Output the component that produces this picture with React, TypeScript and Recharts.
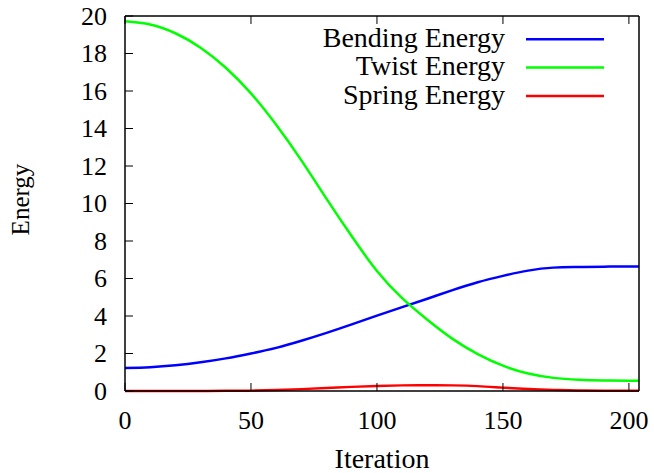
import { LineChart, Line, XAxis, YAxis, Legend, Label } from "recharts";

// iteration samples
const ITERATIONS = [0, 10, 20, 30, 40, 50, 60, 70, 80, 90, 100, 110, 120, 130, 140, 150, 160, 170, 180, 190, 200, 204];
const BENDING = [1.23, 1.27, 1.37, 1.53, 1.74, 2.0, 2.3, 2.68, 3.1, 3.55, 4.02, 4.47, 4.92, 5.38, 5.8, 6.14, 6.42, 6.58, 6.61, 6.63, 6.64, 6.64];
const TWIST = [19.72, 19.55, 19.08, 18.31, 17.24, 15.87, 14.2, 12.3, 10.25, 8.25, 6.4, 4.95, 3.8, 2.78, 1.97, 1.35, 0.93, 0.7, 0.6, 0.56, 0.55, 0.55];
const SPRING = [0, 0, 0, 0, 0.01, 0.02, 0.05, 0.1, 0.16, 0.22, 0.27, 0.3, 0.31, 0.3, 0.26, 0.18, 0.11, 0.06, 0.03, 0.01, 0.01, 0.01];

const SERIES_NAMES = ["Bending Energy", "Twist Energy", "Spring Energy"];
const X_TICKS = [0, 50, 100, 150, 200];
const Y_TICKS = [0, 2, 4, 6, 8, 10, 12, 14, 16, 18, 20];

const data = ITERATIONS.map((it, i) => ({
  iteration: it,
  bending: BENDING[i],
  twist: TWIST[i],
  spring: SPRING[i],
}));

const FONT = '"Liberation Serif", "Times New Roman", serif';
const FS = 26;
const TICK_LEN = 8;

// gnuplot-style inward ticks
const LeftTick = ({ x, y, payload }: any) => (
  <g>
    <line x1={x} y1={y} x2={x + TICK_LEN} y2={y} stroke="#000" strokeWidth={1} />
    <text x={x - 18} y={y} dy={8.5} textAnchor="end" fontFamily={FONT} fontSize={FS} fill="#000">
      {payload.value}
    </text>
  </g>
);

const BottomTick = ({ x, y, payload }: any) => (
  <g>
    <line x1={x} y1={y} x2={x} y2={y - TICK_LEN} stroke="#000" strokeWidth={1} />
    <text x={x} y={y + 38} textAnchor="middle" fontFamily={FONT} fontSize={FS} fill="#000">
      {payload.value}
    </text>
  </g>
);

const RightTick = ({ x, y }: any) => (
  <line x1={x} y1={y} x2={x - TICK_LEN} y2={y} stroke="#000" strokeWidth={1} />
);

const TopTick = ({ x, y }: any) => (
  <line x1={x} y1={y} x2={x} y2={y + TICK_LEN} stroke="#000" strokeWidth={1} />
);

const YTitle = ({ viewBox }: any) => {
  const cx = viewBox.x + 19;
  const cy = viewBox.y + viewBox.height / 2 - 4;
  return (
    <text x={cx} y={cy} transform={`rotate(-90 ${cx} ${cy})`} textAnchor="middle" fontFamily={FONT} fontSize={25} fill="#000">
      Energy
    </text>
  );
};

const XTitle = ({ viewBox }: any) => (
  <text x={viewBox.x + viewBox.width / 2} y={viewBox.y + 77} textAnchor="middle" fontFamily={FONT} fontSize={28} fill="#000">
    Iteration
  </text>
);

const renderLegend = ({ payload }: any) => {
  const items = SERIES_NAMES.map((n) => (payload || []).find((p: any) => p.value === n)).filter(Boolean);
  return (
    <svg width={320} height={112} style={{ display: "block" }}>
      {items.map((entry: any, i: number) => {
        const base = 46.7 + i * 28.4;
        return (
          <g key={entry.value}>
            <text x={205} y={base} textAnchor="end" fontFamily={FONT} fontSize={28} fill="#000">
              {entry.value}
            </text>
            <line x1={226} y1={base - 7.5} x2={304} y2={base - 7.5} stroke={entry.color} strokeWidth={2.5} />
          </g>
        );
      })}
    </svg>
  );
};

export default function App() {
  return (
    <div style={{ position: "absolute", left: 0, top: 0, background: "#fff" }}>
      <LineChart width={654} height={473} data={data} margin={{ top: 15, right: 14, bottom: 22, left: 10 }}>
        <XAxis
          dataKey="iteration"
          type="number"
          domain={[0, 204]}
          ticks={X_TICKS}
          interval={0}
          height={60}
          tickSize={0}
          tickMargin={0}
          tickLine={false}
          axisLine={{ stroke: "#000", strokeWidth: 1.5 }}
          tick={<BottomTick />}
        >
          <Label content={<XTitle />} />
        </XAxis>
        <XAxis
          xAxisId="top"
          orientation="top"
          dataKey="iteration"
          type="number"
          domain={[0, 204]}
          ticks={X_TICKS}
          interval={0}
          height={1}
          tickSize={0}
          tickMargin={0}
          tickLine={false}
          axisLine={{ stroke: "#000", strokeWidth: 1.5 }}
          tick={<TopTick />}
        />
        <YAxis
          type="number"
          domain={[0, 20]}
          ticks={Y_TICKS}
          interval={0}
          width={115}
          tickSize={0}
          tickMargin={0}
          tickLine={false}
          axisLine={{ stroke: "#000", strokeWidth: 1.5 }}
          tick={<LeftTick />}
        >
          <Label content={<YTitle />} />
        </YAxis>
        <YAxis
          yAxisId="right"
          orientation="right"
          type="number"
          domain={[0, 20]}
          ticks={Y_TICKS}
          interval={0}
          width={1}
          tickSize={0}
          tickMargin={0}
          tickLine={false}
          axisLine={{ stroke: "#000", strokeWidth: 1.5 }}
          tick={<RightTick />}
        />
        <Legend
          layout="horizontal"
          verticalAlign="middle"
          align="center"
          wrapperStyle={{ left: 300, top: 0, width: 320 }}
          content={renderLegend}
        />
        <Line type="natural" dataKey="bending" name="Bending Energy" stroke="#0000ff" strokeWidth={2.5} dot={false} isAnimationActive={false} />
        <Line type="natural" dataKey="twist" name="Twist Energy" stroke="#00ff00" strokeWidth={2.5} dot={false} isAnimationActive={false} />
        <Line type="natural" dataKey="spring" name="Spring Energy" stroke="#ff0000" strokeWidth={2.5} dot={false} isAnimationActive={false} />
      </LineChart>
    </div>
  );
}
